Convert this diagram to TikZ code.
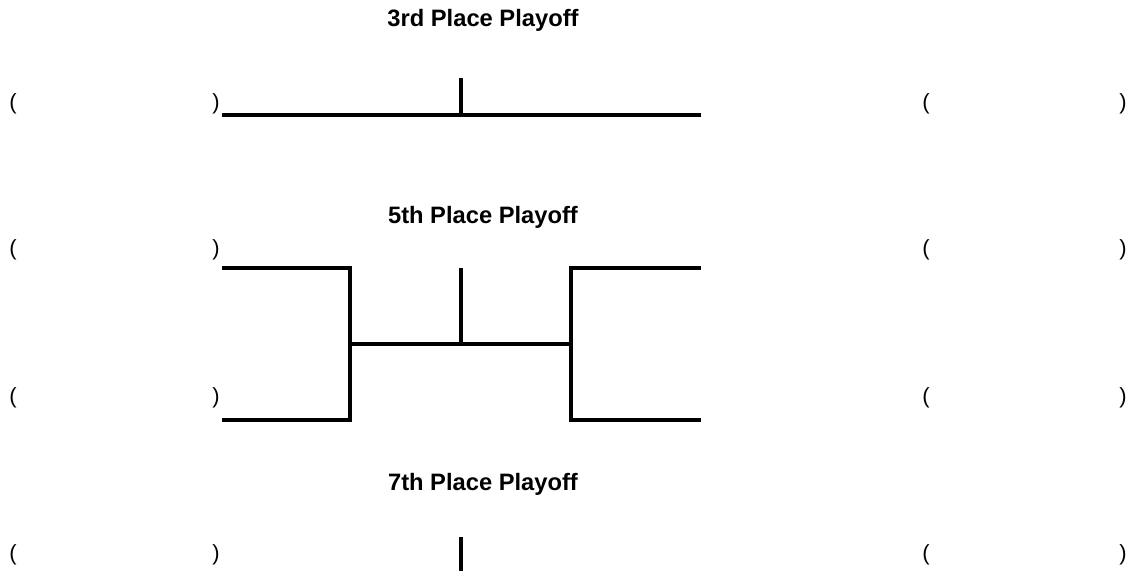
\documentclass[tikz,border=0pt]{standalone}
\usepackage{fontspec}
\setmainfont{Liberation Sans}
\usetikzlibrary{positioning}
\tikzset{
  title/.style={font=\fontsize{13.5}{16}\selectfont\bfseries},
  paren/.style={font=\fontsize{12.5}{14}\selectfont, inner sep=0pt},
  bracket/.style={line width=2.1pt},
}
\begin{document}
\begin{tikzpicture}[x=0.02cm, y=-0.02cm]
  \useasboundingbox (0,0) rectangle (1128,571);
  % titles
  \node[title] (t3) at (483,20) {3rd Place Playoff};
  \node[title] (t5) at (483,217) {5th Place Playoff};
  \node[title] (t7) at (483,484) {7th Place Playoff};
  % team slots
  \foreach \y [count=\i] in {104,250,398,555} {
    \node[paren] (lo\i) at (13,\y) {(};
    \node[paren] (lc\i) at (216,\y) {)};
    \node[paren] (ro\i) at (926,\y) {(};
    \node[paren] (rc\i) at (1123,\y) {)};
  }
  % 3rd place
  \coordinate (a1) at (222,115);
  \coordinate (a2) at (701,115);
  \coordinate (a3) at (461,78);
  \draw[bracket] (a1) -- (a2);
  \draw[bracket] (a3) -- (a3 |- a1);
  % 5th place
  \coordinate (b1) at (222,268);
  \coordinate (b2) at (350,268);
  \coordinate (b3) at (350,420);
  \coordinate (b4) at (222,420);
  \coordinate (c1) at (701,268);
  \coordinate (c2) at (571,268);
  \coordinate (c3) at (571,420);
  \coordinate (c4) at (701,420);
  \coordinate (m1) at (350,344);
  \coordinate (m2) at (571,344);
  \coordinate (m3) at (461,268);
  \draw[bracket] (b1) -- (b2) -- (b3) -- (b4);
  \draw[bracket] (c1) -- (c2) -- (c3) -- (c4);
  \draw[bracket] (m1) -- (m2);
  \draw[bracket] (m3) -- (m3 |- m1);
  % 7th place
  \coordinate (d1) at (461,537);
  \coordinate (d2) at (461,571);
  \draw[bracket] (d1) -- (d2);
\end{tikzpicture}
\end{document}
